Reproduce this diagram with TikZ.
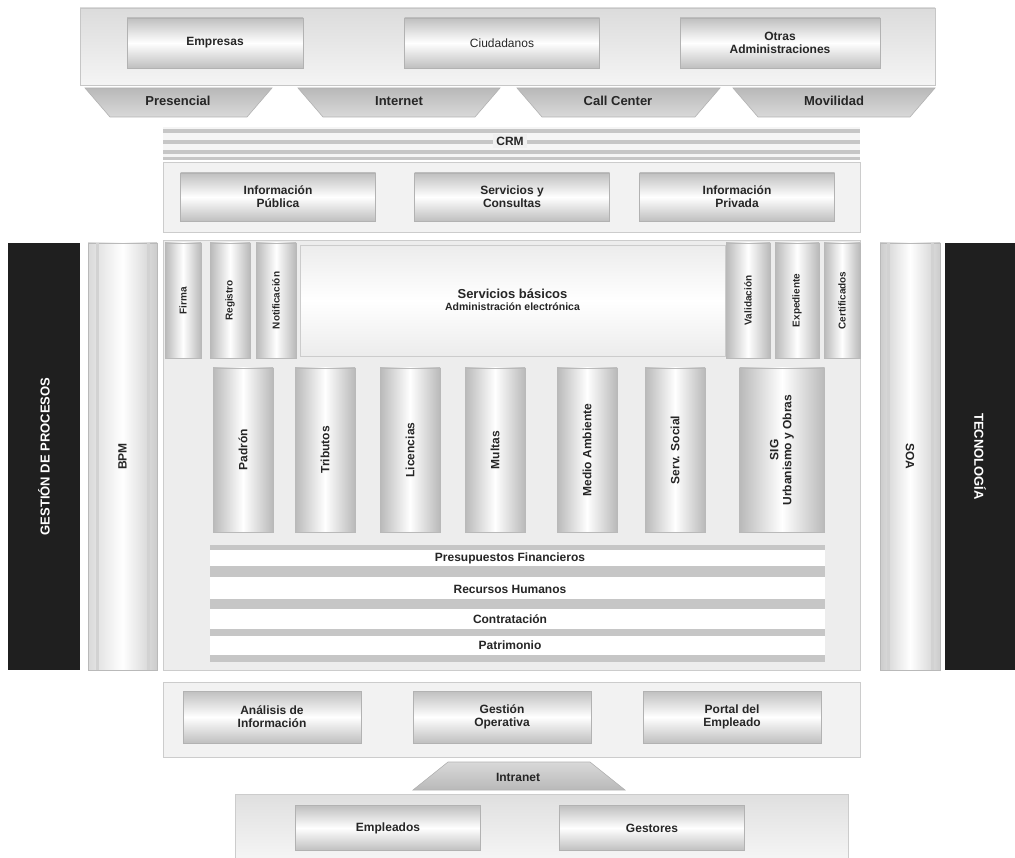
\documentclass[tikz,border=0pt]{standalone}
\usepackage{fontspec}
\setmainfont{Liberation Sans}
\begin{document}
\begin{tikzpicture}[x=1pt,y=-1pt,
 lbl/.style={font=\bfseries\fontsize{12}{13}\selectfont, text=black!85, align=center, inner sep=0pt},
 slbl/.style={font=\bfseries\fontsize{10}{11}\selectfont, text=black!85, align=center, inner sep=0pt},
 panel/.style={draw=gray!45, top color=gray!28, bottom color=gray!8, line width=0.8pt},
 flatpanel/.style={draw=gray!40, fill=gray!10, line width=0.8pt},
 btn/.style={draw=gray!60, top color=gray!50, bottom color=gray!50, middle color=white, line width=0.6pt, inner sep=0pt},
 chan/.style={draw=gray!60, top color=gray!55, bottom color=gray!30, line width=0.6pt},
 vcol/.style={draw=gray!55, left color=gray!55, right color=gray!55, middle color=white, line width=0.6pt, inner sep=0pt},
 stripe/.style={fill=gray!45},
 blackbar/.style={fill=black!88},
 wlbl/.style={font=\bfseries\fontsize{13}{14}\selectfont, text=white, inner sep=0pt}
]
\useasboundingbox (0,0) rectangle (1015,858);
\fill[white] (0,0) rectangle (1015,858);

% ---------- top panel ----------
\node[panel, minimum width=855, minimum height=77, inner sep=0pt] (toppanel) at (507.5,46.5) {};
\node[btn, minimum width=176, minimum height=50] (empresas) at (215,43) {};
\node[lbl] (empresasl) at (empresas) {Empresas};
\node[btn, minimum width=195, minimum height=50] (ciudadanos) at (502,43) {};
\node[lbl, font=\fontsize{12}{13}\selectfont] (ciudadanosl) at (ciudadanos) {Ciudadanos};
\node[btn, minimum width=200, minimum height=50] (otras) at (780,43) {};
\node[lbl] (otrasl) at (otras) {Otras\\Administraciones};

% ---------- channels ----------
\draw[chan] (85,88) -- (272,88) -- (247,117) -- (110,117) -- cycle;
\node[lbl, font=\bfseries\fontsize{13}{14}\selectfont] (presencial) at (178,101) {Presencial};
\draw[chan] (298,88) -- (500,88) -- (475,117) -- (323,117) -- cycle;
\node[lbl, font=\bfseries\fontsize{13}{14}\selectfont] (internet) at (399,101) {Internet};
\draw[chan] (517,88) -- (720,88) -- (695,117) -- (542,117) -- cycle;
\node[lbl, font=\bfseries\fontsize{13}{14}\selectfont] (callcenter) at (618,101) {Call Center};
\draw[chan] (733,88) -- (935,88) -- (910,117) -- (758,117) -- cycle;
\node[lbl, font=\bfseries\fontsize{13}{14}\selectfont] (movilidad) at (834,101) {Movilidad};

% ---------- CRM ----------
\fill[gray!8] (163,127) rectangle (860,160);
\fill[stripe] (163,129) rectangle (860,133);
\fill[stripe] (163,140) rectangle (860,144);
\fill[stripe] (163,150) rectangle (860,154);
\fill[stripe] (163,157) rectangle (860,160);
\node[lbl, fill=gray!12, inner sep=3pt] (crm) at (510,141) {CRM};

% ---------- info panel ----------
\node[flatpanel, minimum width=697, minimum height=70, inner sep=0pt] (infopanel) at (511.5,197) {};
\node[btn, minimum width=195, minimum height=48] (pub) at (278,197) {};
\node[lbl] (publ) at (pub) {Información\\Pública};
\node[btn, minimum width=195, minimum height=48] (serv) at (512,197) {};
\node[lbl] (servl) at (serv) {Servicios y\\Consultas};
\node[btn, minimum width=195, minimum height=48] (priv) at (737,197) {};
\node[lbl] (privl) at (priv) {Información\\Privada};

% ---------- middle area ----------
\node[flatpanel, fill=gray!14, minimum width=697, minimum height=430, inner sep=0pt] (middle) at (511.5,455) {};

% left side
\node[blackbar, minimum width=72, minimum height=427, inner sep=0pt] (gestbar) at (44,456.5) {};
\node[wlbl, rotate=90] (gest) at (gestbar) {GESTIÓN DE PROCESOS};
\node[vcol, left color=gray!30, right color=gray!40, middle color=white, minimum width=69, minimum height=427] (bpmcol) at (122.5,456.5) {};
\draw[gray!35, line width=3pt] (97,243) -- (97,670);
\draw[gray!35, line width=3pt] (148,243) -- (148,670);
\node[lbl, rotate=90] (bpm) at (bpmcol) {BPM};

% right side
\node[vcol, left color=gray!40, right color=gray!40, middle color=white, minimum width=60, minimum height=427] (soacol) at (910,456.5) {};
\draw[gray!35, line width=3pt] (888,243) -- (888,670);
\draw[gray!35, line width=3pt] (932,243) -- (932,670);
\node[lbl, rotate=-90] (soa) at (soacol) {SOA};
\node[blackbar, minimum width=70, minimum height=427, inner sep=0pt] (tecbar) at (980,456.5) {};
\node[wlbl, rotate=-90] (tec) at (tecbar) {TECNOLOGÍA};

% top mini columns
\node[vcol, minimum width=36, minimum height=115] (m1) at (183,300.5) {};
\node[slbl, rotate=90] (m1l) at (m1) {Firma};
\node[vcol, minimum width=40, minimum height=115] (m2) at (230,300.5) {};
\node[slbl, rotate=90] (m2l) at (m2) {Registro};
\node[vcol, minimum width=40, minimum height=115] (m3) at (276,300.5) {};
\node[slbl, rotate=90] (m3l) at (m3) {Notificación};

\node[draw=gray!40, top color=gray!15, bottom color=gray!15, middle color=white, minimum width=425, minimum height=111, inner sep=0pt] (basicos) at (512.5,300.5) {};
\node[lbl, align=center] (basicosl) at (512.5,300) {{\fontsize{13}{14}\selectfont Servicios básicos}\\[-1pt]{\fontsize{10.5}{11}\selectfont Administración electrónica}};

\node[vcol, minimum width=44, minimum height=115] (m4) at (748,300.5) {};
\node[slbl, rotate=90] (m4l) at (m4) {Validación};
\node[vcol, minimum width=44, minimum height=115] (m5) at (797,300.5) {};
\node[slbl, rotate=90] (m5l) at (m5) {Expediente};
\node[vcol, minimum width=36, minimum height=115] (m6) at (842,300.5) {};
\node[slbl, rotate=90] (m6l) at (m6) {Certificados};

% service columns
\node[vcol, minimum width=60, minimum height=164] (c1) at (243,450) {};
\node[lbl, rotate=90] (c1l) at (c1) {Padrón};
\node[vcol, minimum width=60, minimum height=164] (c2) at (325,450) {};
\node[lbl, rotate=90] (c2l) at (c2) {Tributos};
\node[vcol, minimum width=60, minimum height=164] (c3) at (410,450) {};
\node[lbl, rotate=90] (c3l) at (c3) {Licencias};
\node[vcol, minimum width=60, minimum height=164] (c4) at (495,450) {};
\node[lbl, rotate=90] (c4l) at (c4) {Multas};
\node[vcol, minimum width=60, minimum height=164] (c5) at (587,450) {};
\node[lbl, rotate=90] (c5l) at (c5) {Medio Ambiente};
\node[vcol, minimum width=60, minimum height=164] (c6) at (675,450) {};
\node[lbl, rotate=90] (c6l) at (c6) {Serv. Social};
\node[vcol, minimum width=85, minimum height=164] (c7) at (782,450) {};
\node[lbl, rotate=90] (c7l) at (c7) {SIG\\Urbanismo y Obras};

% horizontal bands
\fill[white] (210,545) rectangle (825,662);
\fill[stripe] (210,545) rectangle (825,550);
\fill[stripe] (210,566) rectangle (825,577);
\fill[stripe] (210,599) rectangle (825,609);
\fill[stripe] (210,629) rectangle (825,636);
\fill[stripe] (210,655) rectangle (825,662);
\node[lbl] (presup) at (510,558) {Presupuestos Financieros};
\node[lbl] (rrhh) at (510,589) {Recursos Humanos};
\node[lbl] (contr) at (510,619) {Contratación};
\node[lbl] (patr) at (510,645) {Patrimonio};

% ---------- bottom panel ----------
\node[flatpanel, minimum width=697, minimum height=75, inner sep=0pt] (botpanel) at (511.5,719.5) {};
\node[btn, minimum width=178, minimum height=52] (anal) at (272,717) {};
\node[lbl] (anall) at (anal) {Análisis de\\Información};
\node[btn, minimum width=178, minimum height=52] (gop) at (502,717) {};
\node[lbl] (gopl) at (gop) {Gestión\\Operativa};
\node[btn, minimum width=178, minimum height=52] (portal) at (732,717) {};
\node[lbl] (portall) at (portal) {Portal del\\Empleado};

% intranet
\draw[chan, top color=gray!30, bottom color=gray!55] (448,762) -- (590,762) -- (625,790) -- (413,790) -- cycle;
\node[lbl] (intranet) at (518,777) {Intranet};

% lowest panel
\node[flatpanel, top color=gray!25, bottom color=gray!8, minimum width=613, minimum height=64, inner sep=0pt] (lowpanel) at (541.5,826) {};
\node[btn, minimum width=185, minimum height=45] (empl) at (388,828) {};
\node[lbl] (empll) at (empl) {Empleados};
\node[btn, minimum width=185, minimum height=45] (gest2) at (652,828) {};
\node[lbl] (gest2l) at (gest2) {Gestores};
\end{tikzpicture}
\end{document}
